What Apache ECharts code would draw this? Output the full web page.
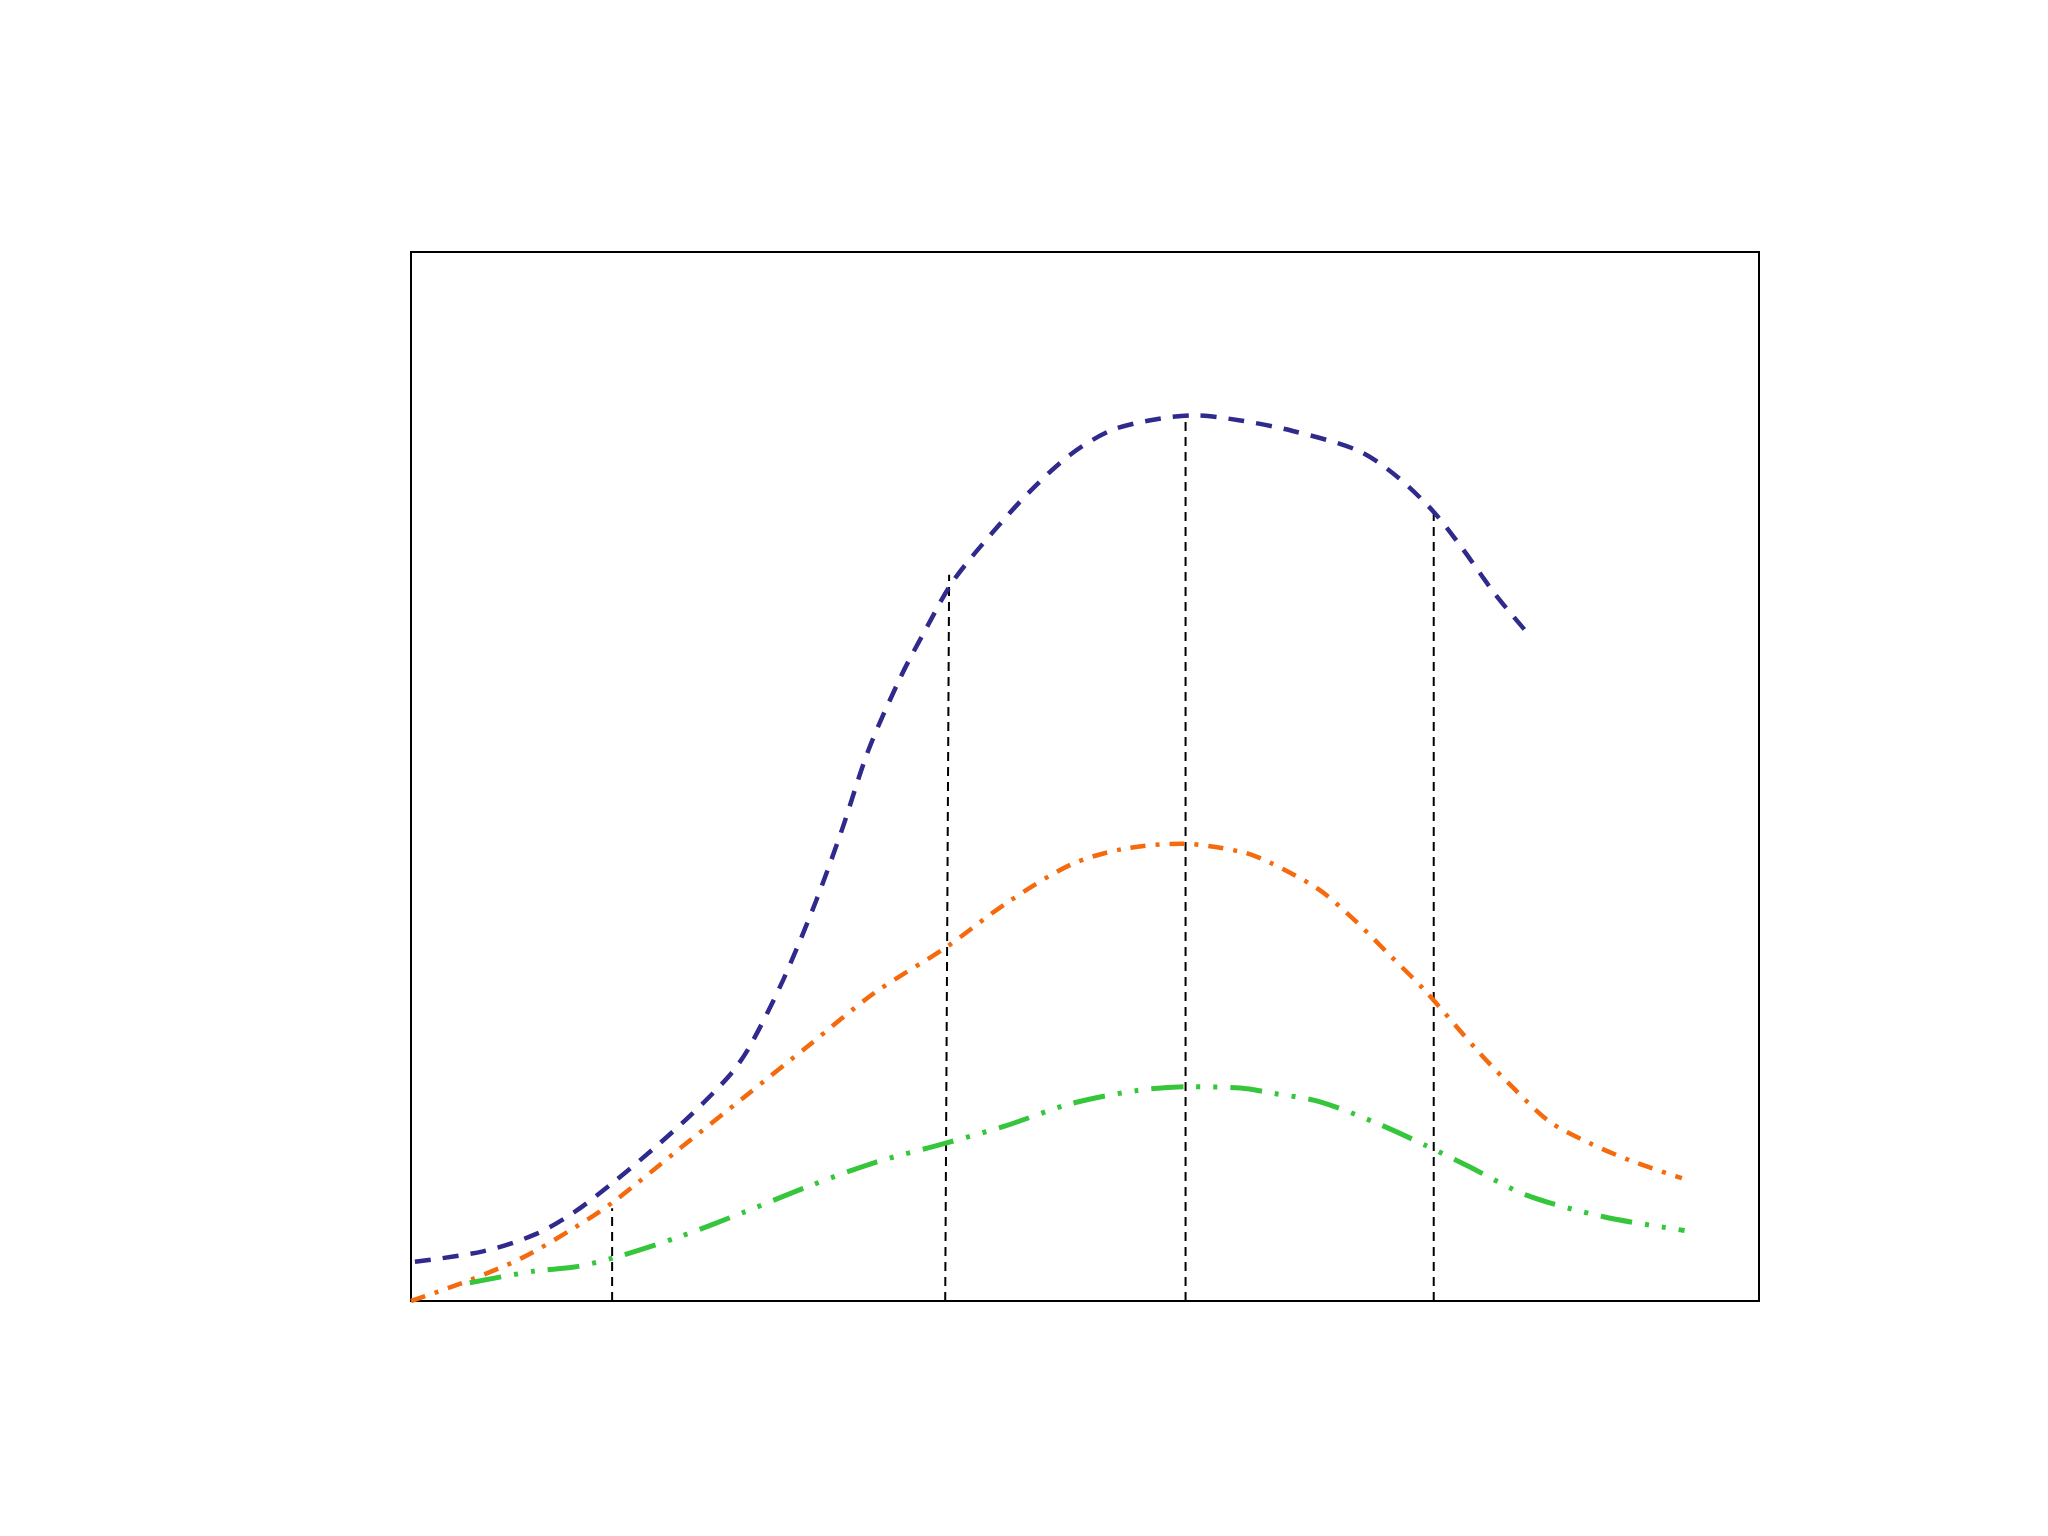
<!DOCTYPE html>
<html>
<head>
<meta charset="utf-8">
<script src="https://cdn.jsdelivr.net/npm/echarts@6/dist/echarts.min.js"></script>
<style>
html,body{margin:0;padding:0;background:#fff;}
#chart{width:2048px;height:1536px;}
</style>
</head>
<body>
<div id="chart"></div>
<script>
// Blue dashed curve
var blueX = [0.29, 5.33, 9.21, 12.11, 15.02, 17.93, 20.83, 23.74, 25.19, 27.62, 30.04, 31.98, 33.91, 36.34, 38.28, 40.21, 43.12, 46.03, 48.93, 51.84, 54.75, 58.14, 61.53, 65.41, 70.25, 73.16, 75.87, 78.00, 80.43, 82.85];
var blueY = [3.74, 4.73, 6.35, 8.47, 11.33, 14.45, 17.81, 21.67, 24.41, 30.64, 38.11, 44.96, 52.43, 59.53, 64.26, 68.62, 73.23, 77.33, 80.70, 82.94, 83.94, 84.43, 83.94, 82.94, 81.07, 78.58, 75.22, 71.73, 67.37, 63.64];
// Orange dash-dot curve
var orangeX = [0, 4.36, 8.24, 12.11, 15.02, 19.86, 24.71, 29.55, 34.40, 39.73, 44.09, 48.93, 52.81, 57.17, 61.53, 63.66, 67.34, 70.16, 72.58, 75.10, 79.26, 81.98, 84.50, 87.40, 90.60, 94.28];
var orangeY = [0, 1.99, 4.11, 6.97, 9.46, 14.45, 19.43, 24.41, 29.39, 33.75, 37.86, 41.59, 43.09, 43.59, 42.84, 41.84, 39.23, 36.11, 33.00, 29.76, 23.66, 20.05, 17.06, 15.07, 13.32, 11.71];
// Green dash-dot-dot curve
var greenX = [4.36, 9.21, 12.11, 15.02, 19.86, 24.71, 29.55, 34.40, 39.73, 44.09, 48.93, 53.78, 57.66, 61.53, 63.95, 67.44, 71.90, 75.29, 78.29, 82.75, 88.47, 94.48];
var greenY = [1.74, 2.86, 3.24, 4.11, 6.10, 8.47, 10.96, 13.20, 15.07, 16.69, 18.80, 20.05, 20.42, 20.30, 19.80, 18.99, 16.81, 14.82, 12.95, 10.09, 8.03, 6.72];
// Vertical reference lines: x at bottom, x at top, top value
var refXBottom = [14.92, 39.63, 57.46, 75.87];
var refXTop    = [14.92, 39.92, 57.46, 75.87];
var refYTop    = [8.84, 69.24, 84.18, 75.09];

function zip(xs, ys){ return xs.map(function(x,i){ return [x, ys[i]]; }); }

var series = [
  { type:'line', data: zip(blueX, blueY), smooth:0.3, showSymbol:false, z:3,
    lineStyle:{ color:'#2f2a8c', width:4.5, type:[16,12] } },
  { type:'line', data: zip(orangeX, orangeY), smooth:0.3, showSymbol:false, z:3,
    lineStyle:{ color:'#f56a0d', width:4.5, type:[15,10,4,10] } },
  { type:'line', data: zip(greenX, greenY), smooth:0.3, showSymbol:false, z:3,
    lineStyle:{ color:'#36c63c', width:5, type:[32,13,4,13,4,13] } }
];
refXBottom.forEach(function(xb, i){
  series.push({ type:'line', data:[[xb,0],[refXTop[i], refYTop[i]]], showSymbol:false, z:2,
    lineStyle:{ color:'#000', width:2, type:[9,6] } });
});

var chart = echarts.init(document.getElementById('chart'), null, {renderer:'canvas'});
chart.setOption({
  animation:false,
  backgroundColor:'#fff',
  grid:{ left:411, top:252, width:1348, height:1049, show:true, borderColor:'#000', borderWidth:2, backgroundColor:'transparent' },
  xAxis:{ type:'value', min:0, max:100, axisLine:{show:false}, axisTick:{show:false}, axisLabel:{show:false}, splitLine:{show:false} },
  yAxis:{ type:'value', min:0, max:100, axisLine:{show:false}, axisTick:{show:false}, axisLabel:{show:false}, splitLine:{show:false} },
  series: series
});
</script>
</body>
</html>
